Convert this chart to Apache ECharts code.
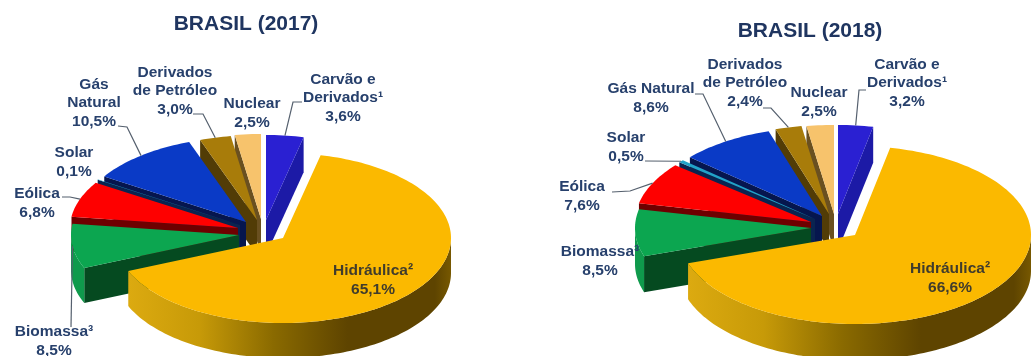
<!DOCTYPE html>
<html>
<head>
<meta charset="utf-8">
<style>html,body{margin:0;padding:0;background:#fff}#chart{width:1033px;height:356px}</style>
<script src="https://cdn.jsdelivr.net/npm/echarts@6/dist/echarts.min.js"></script>
</head>
<body>
<div id="chart"></div>
<script>
// Matriz elétrica brasileira: shares per source, clockwise from 12 o'clock
const sources = ['Carvão e\nDerivados¹', 'Hidráulica²', 'Biomassa³', 'Eólica', 'Solar', 'Gás\nNatural', 'Derivados\nde Petróleo', 'Nuclear'];
const sources2018 = ['Carvão e\nDerivados¹', 'Hidráulica²', 'Biomassa³', 'Eólica', 'Solar', 'Gás Natural', 'Derivados\nde Petróleo', 'Nuclear'];
const values2017 = [3.6, 65.1, 8.5, 6.8, 0.1, 10.5, 3.0, 2.5];
const values2018 = [3.2, 66.6, 8.5, 7.6, 0.5, 8.6, 2.4, 2.5];
const titles = ['BRASIL (2017)', 'BRASIL (2018)'];

// Colours per source: top face, radial cut face, outer rim
const topColors = ['#2a20d2', '#fbb900', '#0ca650', '#fe0000', '#22a2c8', '#0a3ac6', '#a87c0a', '#f7c36c'];
const cutColors = ['#1c1aa6', '#8a6a00', '#054a20', '#6e0000', '#0a2450', '#06164e', '#523c06', '#6a5020'];
const rimColors = ['#1c1aa6', null, '#0f9a4c', '#b00000', '#0a2450', '#0a2a90', '#7a5a08', '#c09a50'];
const goldRim = ['#dcaa10', '#c79a08', '#8a6a00', '#5e4400', '#775800'];

// Layout of each pie: ellipse radii, wall depth, and the exploded apex of every slice
const pieLayout = [
  { rx: 168, ry: 85, depth: 35,
    apex: [[266, 220], [283, 238], [239, 235], [238, 228], [240, 225], [246, 222], [257, 220], [261, 219]] },
  { rx: 176, ry: 89, depth: 36,
    apex: [[838, 214], [855, 235], [811, 228], [811, 222], [815, 219], [822, 216], [829, 214], [834, 214]] }
];

// Annotation layout: [text centre x, text centre y, elbow points of the leader line]
const labelLayout = [
  [[343, 98, [[302, 102], [293, 102]]], [373, 280, null], [54, 341, [[71, 327]]], [37, 203, [[62, 197], [70, 197]]],
   [74, 162, null], [94, 103, [[118, 126], [127, 127]]], [175, 91, [[193, 114], [203, 114]]], [252, 113, null]],
  [[907, 83, [[866, 90], [859, 90]]], [950, 278, null], [600, 261, null], [582, 196, [[612, 192], [630, 191]]],
   [626, 147, [[645, 161]]], [651, 98, [[695, 94], [703, 94]]], [745, 83, [[763, 108], [771, 108]]], [819, 102, null]]
];
const labelSources = [sources, sources2018];
const labelColor = '#27406c';
const labelColorOnGold = '#403c2c';

const formatPct = v => v.toFixed(1).replace('.', ',') + '%';
const polar = (apex, rx, ry, deg) => {
  const a = deg * Math.PI / 180;
  return [apex[0] + rx * Math.sin(a), apex[1] - ry * Math.cos(a)];
};
const down = (p, d) => [p[0], p[1] + d];

function sliceData(values) {
  const total = values.reduce((s, v) => s + v, 0);
  let acc = 0;
  return values.map(v => {
    const start = acc / total * 360;
    acc += v;
    return [v, start, acc / total * 360];
  });
}

function wall(points, depth, fill) {
  const lower = points.slice().reverse().map(p => down(p, depth));
  return { type: 'polygon', shape: { points: points.concat(lower) }, style: { fill: fill } };
}

// One slice as painted back to front: front-facing walls, then the top face
function sliceRenderer(pieIndex) {
  const L = pieLayout[pieIndex];
  return function (params, api) {
    const i = params.dataIndex;
    const start = api.value(1), end = api.value(2);
    const apex = L.apex[i];
    const arc = [];
    const steps = Math.max(2, Math.ceil((end - start) / 1.5));
    for (let k = 0; k <= steps; k++) {
      arc.push(polar(apex, L.rx, L.ry, start + (end - start) * k / steps));
    }
    const children = [];
    const last = arc[arc.length - 1];
    // Walls are visible only where the outline runs leftwards on screen
    if (arc[0][0] < apex[0]) children.push(wall([apex, arc[0]], L.depth, cutColors[i]));
    if (apex[0] < last[0]) children.push(wall([last, apex], L.depth, cutColors[i]));
    const rimPts = [];
    for (let k = 1; k < arc.length; k++) {
      if (arc[k][0] < arc[k - 1][0]) {
        if (!rimPts.length) rimPts.push(arc[k - 1]);
        rimPts.push(arc[k]);
      }
    }
    if (rimPts.length > 1) {
      const fill = rimColors[i] || {
        type: 'linear', x: 1, y: 0, x2: 0, y2: 0,
        colorStops: [
          { offset: 0, color: goldRim[4] }, { offset: 0.05, color: goldRim[3] },
          { offset: 0.32, color: goldRim[3] }, { offset: 0.55, color: goldRim[2] },
          { offset: 0.78, color: goldRim[1] }, { offset: 1, color: goldRim[0] }
        ]
      };
      children.push(wall(rimPts, L.depth, fill));
    }
    children.push({
      type: 'polygon',
      shape: { points: [apex].concat(arc) },
      style: { fill: topColors[i] }
    });
    return { type: 'group', children: children };
  };
}

// Leader lines run from the label elbow to the middle of the slice's outer edge
function labelRenderer(pieIndex) {
  const L = pieLayout[pieIndex];
  return function (params, api) {
    const i = params.dataIndex;
    const spec = labelLayout[pieIndex][i];
    const children = [];
    if (spec[2]) {
      const mid = polar(L.apex[i], L.rx, L.ry, (api.value(1) + api.value(2)) / 2);
      children.push({
        type: 'polyline',
        shape: { points: spec[2].concat([mid]) },
        style: { stroke: '#55606e', lineWidth: 1.2, fill: 'none' }
      });
    }
    children.push({
      type: 'text',
      x: spec[0], y: spec[1],
      style: {
        text: labelSources[pieIndex][i] + '\n' + formatPct(api.value(0)),
        font: 'bold 15.5px "Liberation Sans", Arial, sans-serif',
        lineHeight: 18.5,
        fill: i === 1 ? labelColorOnGold : labelColor,
        align: 'center', verticalAlign: 'middle'
      }
    });
    return { type: 'group', children: children };
  };
}

const data = [sliceData(values2017), sliceData(values2018)];
// Painting order: back slices first, the big front slice last
const paintOrder = [0, 7, 6, 5, 4, 3, 2, 1];

function sliceSeries(pieIndex) {
  return paintOrder.map(i => ({
    type: 'custom',
    coordinateSystem: 'none',
    renderItem: (params, api) => sliceRenderer(pieIndex)({ dataIndex: i }, api),
    data: [data[pieIndex][i]],
    silent: true,
    clip: false,
    z: 2
  }));
}

const titleStyle = { fontFamily: '"Liberation Sans", Arial, sans-serif', fontWeight: 'bold', fontSize: 21, color: '#1f3560' };
const chart = echarts.init(document.getElementById('chart'), null, { renderer: 'canvas' });
chart.setOption({
  backgroundColor: '#ffffff',
  animation: false,
  title: [
    { text: titles[0], left: 241, top: 9, textAlign: 'center', textStyle: titleStyle },
    { text: titles[1], left: 805, top: 16, textAlign: 'center', textStyle: titleStyle }
  ],
  series: sliceSeries(0).concat(sliceSeries(1)).concat([0, 1].map(p => ({
    type: 'custom',
    coordinateSystem: 'none',
    renderItem: labelRenderer(p),
    data: data[p],
    silent: true,
    clip: false,
    z: 5
  })))
});
</script>
</body>
</html>
